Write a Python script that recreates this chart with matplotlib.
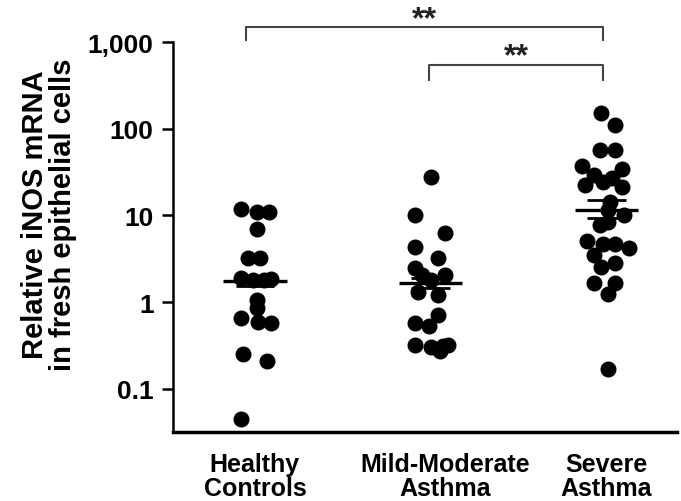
import numpy as np
import matplotlib
matplotlib.use("Agg")
from matplotlib import pyplot as plt

plt.rcParams['font.family'] = ['Liberation Sans', 'DejaVu Sans']
plt.rcParams['font.weight'] = 'bold'

# data
categories = ['Healthy\nControls', 'Mild-Moderate\nAsthma', 'Severe\nAsthma']

healthy = [11.8, 10.9, 10.9, 6.9, 3.2, 3.2, 1.9, 1.8, 1.8, 1.85, 1.05, 0.85,
           0.65, 0.59, 0.57, 0.25, 0.21, 0.045]
healthy_jit = [-0.08, 0.01, 0.08, 0.01, -0.04, 0.03, -0.08, -0.01, 0.05, 0.09, 0.01, 0.01,
               -0.08, 0.02, 0.09, -0.07, 0.07, -0.08]

mild = [28, 10.1, 6.3, 4.3, 3.2, 2.45, 2.05, 2.05, 1.8, 1.32, 1.2, 0.71,
        0.58, 0.53, 0.32, 0.30, 0.27, 0.32, 0.31]
mild_jit = [0.0, -0.09, 0.08, -0.09, 0.04, -0.09, -0.05, 0.08, 0.0, -0.07, 0.04, 0.04,
            -0.09, -0.01, -0.09, 0.0, 0.05, 0.1, 0.07]

severe = [152, 111, 57, 57, 37, 29, 34, 24.6, 27, 22.5, 21.5, 14.4, 11.6, 10.1,
          7.8, 8.5, 5.1, 4.7, 4.7, 4.2, 3.5, 2.85, 2.56, 1.64, 1.64, 1.24, 0.167]
severe_jit = [-0.03, 0.05, -0.04, 0.05, -0.14, -0.07, 0.09, -0.02, 0.03, -0.12, 0.09, 0.02, 0.01, 0.10,
              -0.04, 0.01, -0.11, -0.02, 0.05, 0.13, -0.07, 0.05, -0.03, -0.07, 0.05, 0.01, 0.01]

means = [1.73, 1.67, 11.6]
sem_low = [1.55, 1.45, 9.4]
sem_high = [1.95, 1.9, 15.0]

groups = [healthy, mild, severe]
jitters = [healthy_jit, mild_jit, severe_jit]

fig = plt.figure(figsize=(6.81, 5.02), dpi=100)
ax = fig.add_axes([0.254, 0.137, 0.740, 0.777])

for i in range(len(groups)):
    x = i + np.array(jitters[i])
    ax.plot(x, groups[i], 'o', color='black', markersize=10.5, zorder=3, clip_on=False)
    # mean and sem lines
    ax.hlines(means[i], i - 0.18, i + 0.18, color='black', linewidth=2.4, zorder=4)
    ax.hlines([sem_low[i], sem_high[i]], i - 0.11, i + 0.11, color='black', linewidth=2.0, zorder=4)
    ax.vlines(i, sem_low[i], sem_high[i], color='black', linewidth=2.0, zorder=4)

ax.set_yscale('log')
ax.set_ylim(0.0314, 1000)
ax.set_xlim(-0.466, 2.40)
ax.set_yticks([0.1, 1, 10, 100, 1000])
ax.set_yticklabels(['0.1', '1', '10', '100', '1,000'], fontsize=19, fontweight='bold')
ax.minorticks_off()
ax.set_xticks([0, 1.08, 2])
ax.set_xticklabels(categories, fontsize=18, fontweight='bold', linespacing=1.0)
ax.tick_params(axis='x', length=0, pad=14)
ax.tick_params(axis='y', length=8, width=1.8, direction='out', pad=6)

for s in ['top', 'right']:
    ax.spines[s].set_visible(False)
ax.spines['left'].set_linewidth(1.8)
ax.spines['bottom'].set_linewidth(2.5)

ax.set_ylabel('Relative iNOS mRNA\nin fresh epithelial cells', fontsize=21,
              fontweight='bold', linespacing=1.0)
ax.yaxis.set_label_coords(-0.19, 0.56)

# significance brackets above the axes
def bracket(x1, x2, ytop, ybot, ystar):
    ax.plot([x1, x1, x2, x2], [ybot, ytop, ytop, ybot], color='#444444', linewidth=1.5, clip_on=False)
    ax.text((x1 + x2) / 2, ystar, '**', ha='center', va='center', fontsize=23,
            fontweight='bold', color='#222222')

bracket(-0.05, 1.98, 1510, 1070, 1850)
bracket(0.99, 1.98, 540, 370, 680)

fig.savefig('out.png', dpi=100)
